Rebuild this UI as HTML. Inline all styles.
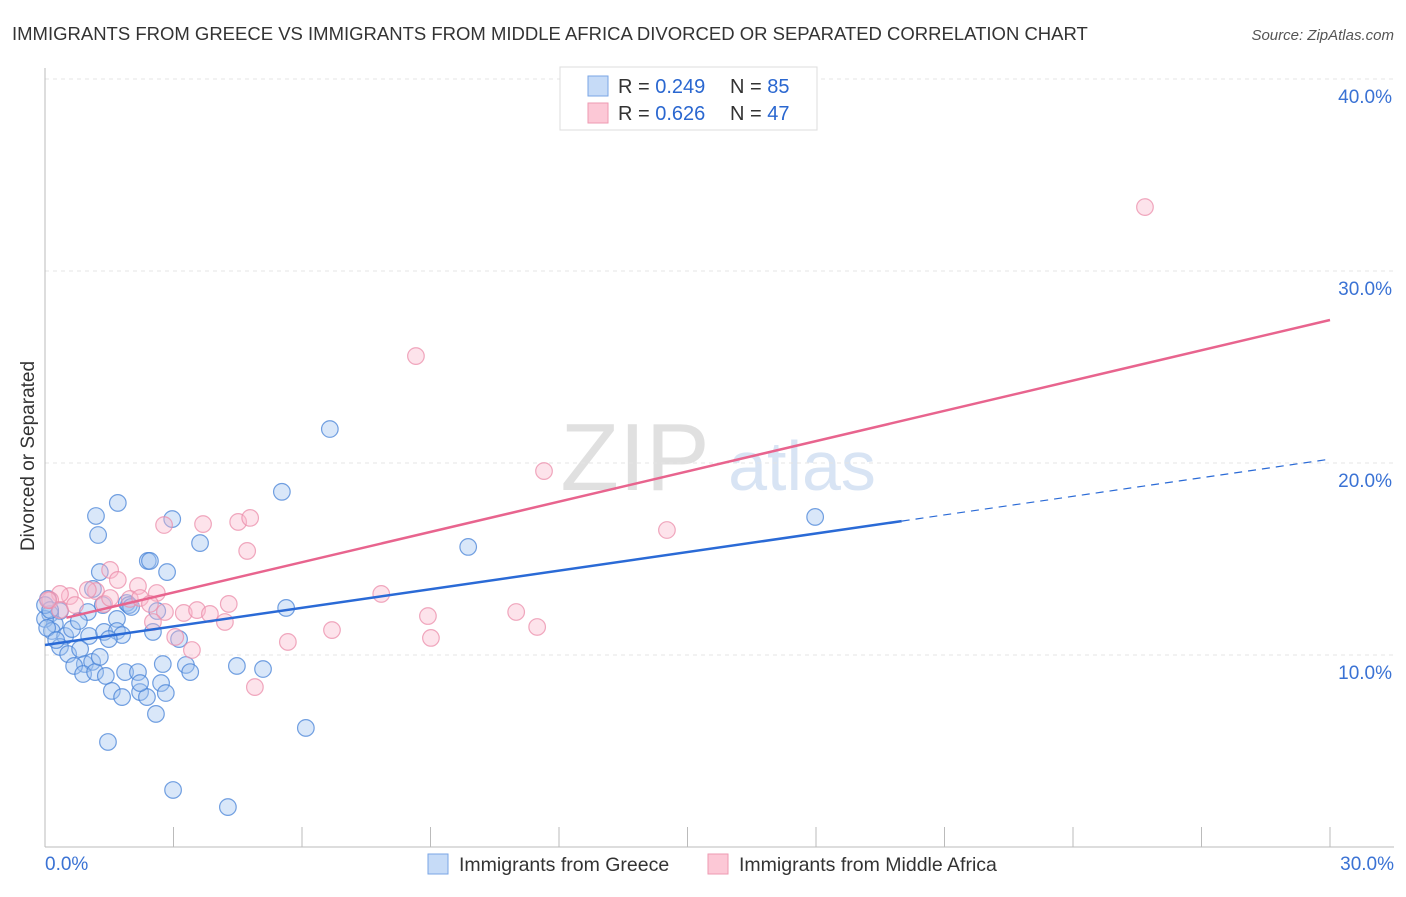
<!DOCTYPE html>
<html><head><meta charset="utf-8"><style>
body{margin:0;background:#fff;font-family:"Liberation Sans",sans-serif}
svg text{font-family:"Liberation Sans",sans-serif}
</style></head><body>
<svg id="c" width="1406" height="892">
<text x="12" y="40" font-size="18.5" fill="#333">IMMIGRANTS FROM GREECE VS IMMIGRANTS FROM MIDDLE AFRICA DIVORCED OR SEPARATED CORRELATION CHART</text>
<text x="1394" y="40" font-size="15" fill="#555" text-anchor="end" font-style="italic">Source: ZipAtlas.com</text>
<text transform="translate(34,456) rotate(-90)" font-size="19" fill="#333" text-anchor="middle">Divorced or Separated</text>
<g><text x="635" y="490" font-size="96" fill="#e0e0e0" font-family="Liberation Serif" text-anchor="middle">ZIP</text><text x="802" y="490" font-size="70" fill="#d8e4f4" text-anchor="middle">atlas</text></g>
<g id="grid"></g><g id="axes"></g><g id="pts"></g><g id="lines"></g>
<g>
<rect x="560" y="67" width="257" height="63" fill="#fff" stroke="#ddd"/>
<rect x="588" y="76" width="20" height="20" fill="#c6dbf7" stroke="#7aa6e6"/>
<rect x="588" y="103" width="20" height="20" fill="#fcc8d6" stroke="#ee9ab2"/>
<text x="618" y="93" font-size="20" fill="#333">R = <tspan fill="#2a67d0">0.249</tspan></text>
<text x="730" y="93" font-size="20" fill="#333">N = <tspan fill="#2a67d0">85</tspan></text>
<text x="618" y="120" font-size="20" fill="#333">R = <tspan fill="#2a67d0">0.626</tspan></text>
<text x="730" y="120" font-size="20" fill="#333">N = <tspan fill="#2a67d0">47</tspan></text>
</g>
<g>
<rect x="428" y="854" width="20" height="20" fill="#c6dbf7" stroke="#7aa6e6"/>
<text x="459" y="871" font-size="19.5" fill="#333">Immigrants from Greece</text>
<rect x="708" y="854" width="20" height="20" fill="#fcc8d6" stroke="#ee9ab2"/>
<text x="739" y="871" font-size="19.5" fill="#333">Immigrants from Middle Africa</text>
</g>
</svg>
<script>
const yTicks=[10,20,30,40];
const yTickLabels=["10.0%","20.0%","30.0%","40.0%"];
const xTickLabels=["0.0%","30.0%"];
const blueX=[1.19,1.7,1.24,2.97,3.62,5.53,6.65,9.88,17.98,2.4,2.45,2.85,1.28,1.12,1.91,1.96,2.62,2.01,1.35,1.68,1.0,0.35,0.07,0.12,0.23,0,0.16,0.47,0.63,0.79,1.03,1.38,1.68,1.8,1.49,2.52,3.13,5.63,0.35,0.54,0.82,0.93,0.68,1.1,0.89,1.17,1.42,1.87,2.17,2.75,3.29,3.39,4.48,5.09,1.56,1.8,2.22,2.38,2.71,2.82,2.59,1.47,6.09,2.99,4.27,0,0.12,0.05,0.26,1.28,2.22];
const blueY=[17.24,17.92,16.25,17.08,15.83,18.5,21.77,15.63,17.19,14.9,14.9,14.32,14.32,13.44,12.71,12.6,12.29,12.5,12.6,11.88,12.24,12.29,12.92,12.14,11.61,11.88,11.25,10.99,11.35,11.77,10.99,11.2,11.25,11.04,10.83,11.2,10.83,12.45,10.42,10.05,10.31,9.53,9.43,9.64,9.01,9.11,8.91,9.11,9.11,9.53,9.48,9.11,9.43,9.27,8.13,7.81,8.07,7.81,8.54,8.02,6.93,5.47,6.2,2.97,2.08,12.6,12.34,11.41,10.78,9.9,8.54];
const pinkX=[25.68,8.66,11.65,14.52,2.78,3.69,4.51,4.79,4.72,1.52,1.7,2.17,1.19,1.0,0.58,0.35,0.12,1.38,1.98,2.61,2.22,2.45,2.8,3.24,3.55,3.85,4.29,4.2,2.52,3.04,3.43,5.67,6.7,7.85,8.94,9.01,11.0,11.49,4.9,0.35,0.7,1.52,0.07];
const pinkY=[33.33,25.57,19.58,16.51,16.77,16.82,16.93,17.14,15.42,14.43,13.91,13.59,13.33,13.39,13.07,13.18,12.86,12.66,12.92,13.23,12.97,12.66,12.24,12.19,12.34,12.14,12.66,11.72,11.72,10.94,10.26,10.68,11.3,13.18,12.03,10.89,12.24,11.46,8.33,12.34,12.6,12.97,12.86];
const blueFit=[10.52,0.3227], pinkFit=[11.68,0.5256];
const sx=v=>45+v/30*1285, sy=v=>847-v*19.2;
const NS="http://www.w3.org/2000/svg";
function mk(t,a,p){const e=document.createElementNS(NS,t);for(const k in a)e.setAttribute(k,a[k]);document.getElementById(p).appendChild(e);return e;}
yTicks.forEach((v,i)=>{
 const g=mk('line',{x1:45,x2:1394,y1:sy(v),y2:sy(v),stroke:'#e4e4e4','stroke-dasharray':'4,4'},'grid');
 
 
 const t=mk('text',{x:1392,y:sy(v)+24,'font-size':19,fill:'#3a72d4','text-anchor':'end'},'axes');t.textContent=yTickLabels[i];
 
 
});
let ax=mk('line',{x1:45,x2:45,y1:68,y2:847,stroke:'#bbb'},'axes');


let bx=mk('line',{x1:45,x2:1394,y1:847,y2:847,stroke:'#bbb'},'axes');


for(let i=0;i<=10;i++){const l=mk('line',{x1:sx(i*3),x2:sx(i*3),y1:827,y2:847,stroke:'#bbb'},'axes');
 
 }
[[0,'start',45],[30,'end',1394]].forEach((d,i)=>{const t=mk('text',{x:d[2],y:870,'font-size':19,fill:'#3a72d4','text-anchor':d[1]},'axes');t.textContent=xTickLabels[i];
 
 });
blueX.forEach((x,i)=>{const c=mk('circle',{cx:sx(x),cy:sy(blueY[i]),r:8.3,fill:'rgba(160,196,240,0.4)',stroke:'rgba(70,130,215,0.75)','stroke-width':1.2},'pts');
 
 });
pinkX.forEach((x,i)=>{const c=mk('circle',{cx:sx(x),cy:sy(pinkY[i]),r:8.3,fill:'rgba(250,185,205,0.4)',stroke:'rgba(235,140,170,0.75)','stroke-width':1.2},'pts');
 
 });
const f=(p,x)=>p[0]+p[1]*x;
let l1=mk('line',{x1:sx(0),y1:sy(f(blueFit,0)),x2:sx(20),y2:sy(f(blueFit,20)),stroke:'#2a6ad6','stroke-width':2.5},'lines');


let l2=mk('line',{x1:sx(20),y1:sy(f(blueFit,20)),x2:sx(30),y2:sy(f(blueFit,30)),stroke:'#2a6ad6','stroke-width':1.2,'stroke-dasharray':'8,6'},'lines');


let l3=mk('line',{x1:sx(0.5),y1:sy(f(pinkFit,0.5)),x2:sx(30),y2:sy(f(pinkFit,30)),stroke:'#e8648e','stroke-width':2.5},'lines');


</script>
</body></html>
